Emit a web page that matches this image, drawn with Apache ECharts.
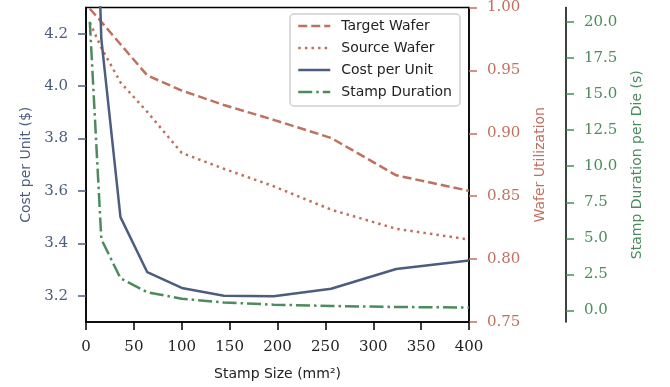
<!DOCTYPE html>
<html>
<head>
<meta charset="utf-8">
<script src="https://cdn.jsdelivr.net/npm/echarts@6/dist/echarts.min.js"></script>
<style>html,body{margin:0;padding:0;background:#fff}#c{width:670px;height:387px}</style>
</head>
<body>
<div id="c"></div>
<script>
var stampSize = [4, 16, 36, 64, 100, 144, 196, 256, 324, 400];
var targetWafer = [0.999, 0.9886, 0.9708, 0.946, 0.934, 0.9225, 0.9107, 0.8963, 0.8666, 0.8543];
var sourceWafer = [0.988, 0.968, 0.9405, 0.917, 0.8844, 0.8718, 0.8579, 0.8393, 0.8241, 0.8156];
var costPerUnit = [5.6, 4.18, 3.50, 3.29, 3.23, 3.20, 3.198, 3.227, 3.302, 3.335];
var stampDuration = [20.0, 4.95, 2.24, 1.27, 0.82, 0.56, 0.41, 0.32, 0.25, 0.21];
var costTicks = [3.2, 3.4, 3.6, 3.8, 4.0, 4.2];
var durationTicks = [0, 2.5, 5, 7.5, 10, 12.5, 15, 17.5, 20];

var RED = '#c0705e', BLUE = '#4c5d80', GREEN = '#4b8b5d';
var SERIF = 'DejaVu Serif', SANS = 'DejaVu Sans';

function pairs(ys) { return stampSize.map(function (x, i) { return [x, ys[i]]; }); }

var chart = echarts.init(document.getElementById('c'), null, {renderer: 'canvas'});
chart.setOption({
  animation: false,
  backgroundColor: '#fff',
  grid: {left: 86, right: 201, top: 5, bottom: 65, show: true, borderColor: '#000', borderWidth: 1.5, backgroundColor: 'transparent'},
  legend: {
    left: 290, top: 14, orient: 'vertical',
    backgroundColor: '#fff', borderColor: '#d0d0d0', borderWidth: 1.5, borderRadius: 4,
    padding: [5, 8, 7, 7], itemWidth: 32, itemHeight: 14, itemGap: 8,
    itemStyle: {opacity: 0},
    lineStyle: {width: 2.5},
    textStyle: {fontFamily: SANS, fontSize: 14, color: '#222', padding: [0, 0, 0, 6]},
    data: ['Target Wafer', 'Source Wafer', 'Cost per Unit', 'Stamp Duration']
  },
  xAxis: {
    type: 'value', min: 0, max: 400, interval: 50,
    name: 'Stamp Size (mm²)', nameLocation: 'middle', nameGap: 45,
    nameTextStyle: {fontFamily: SANS, fontSize: 14, color: '#222'},
    axisLine: {show: true, onZero: false, lineStyle: {color: '#000', width: 1.5}},
    axisTick: {show: true, length: 8, lineStyle: {color: '#000', width: 1.5}},
    axisLabel: {fontFamily: SERIF, fontSize: 15, color: '#222', margin: 18},
    splitLine: {show: false}
  },
  yAxis: [
    {
      type: 'value', position: 'left', min: 3.1, max: 4.3,
      name: 'Cost per Unit ($)', nameLocation: 'middle', nameGap: 53, nameRotate: 90,
      nameTextStyle: {fontFamily: SANS, fontSize: 14, color: BLUE},
      axisLine: {show: true, onZero: false, lineStyle: {color: '#000', width: 1.5}},
      axisTick: {show: true, length: 8, customValues: costTicks, lineStyle: {color: BLUE, width: 1.5}},
      axisLabel: {fontFamily: SERIF, fontSize: 15, color: BLUE, margin: 18, customValues: costTicks,
        formatter: function (v) { return v.toFixed(1); }},
      splitLine: {show: false}
    },
    {
      type: 'value', position: 'right', min: 0.75, max: 1.0, interval: 0.05,
      name: 'Wafer Utilization', nameLocation: 'middle', nameGap: 64, nameRotate: 90,
      nameTextStyle: {fontFamily: SANS, fontSize: 14, color: RED},
      axisLine: {show: true, onZero: false, lineStyle: {color: '#000', width: 1.5}},
      axisTick: {show: true, length: 8, lineStyle: {color: RED, width: 1.5}},
      axisLabel: {fontFamily: SERIF, fontSize: 15, color: RED, margin: 18,
        formatter: function (v) { return v.toFixed(2); }},
      splitLine: {show: false}
    },
    {
      type: 'value', position: 'right', offset: 97, min: -0.79, max: 20.99,
      name: 'Stamp Duration per Die (s)', nameLocation: 'middle', nameGap: 64, nameRotate: 90,
      nameTextStyle: {fontFamily: SANS, fontSize: 14, color: GREEN},
      axisLine: {show: true, onZero: false, lineStyle: {color: '#000', width: 1.5}},
      axisTick: {show: true, length: 8, customValues: durationTicks, lineStyle: {color: GREEN, width: 1.5}},
      axisLabel: {fontFamily: SERIF, fontSize: 15, color: GREEN, margin: 18, customValues: durationTicks,
        formatter: function (v) { return v.toFixed(1); }},
      splitLine: {show: false}
    }
  ],
  series: [
    {name: 'Target Wafer', type: 'line', yAxisIndex: 1, data: pairs(targetWafer), showSymbol: false, symbol: 'none',
      color: RED, lineStyle: {color: RED, width: 2.5, type: [9, 4]}},
    {name: 'Source Wafer', type: 'line', yAxisIndex: 1, data: pairs(sourceWafer), showSymbol: false, symbol: 'none',
      color: RED, lineStyle: {color: RED, width: 2.5, type: [2.5, 4.1]}},
    {name: 'Cost per Unit', type: 'line', yAxisIndex: 0, data: pairs(costPerUnit), showSymbol: false, symbol: 'none',
      color: BLUE, lineStyle: {color: BLUE, width: 2.5}},
    {name: 'Stamp Duration', type: 'line', yAxisIndex: 2, data: pairs(stampDuration), showSymbol: false, symbol: 'none',
      color: GREEN, lineStyle: {color: GREEN, width: 2.5, type: [14, 4, 2.5, 4]}}
  ]
});
</script>
</body>
</html>
